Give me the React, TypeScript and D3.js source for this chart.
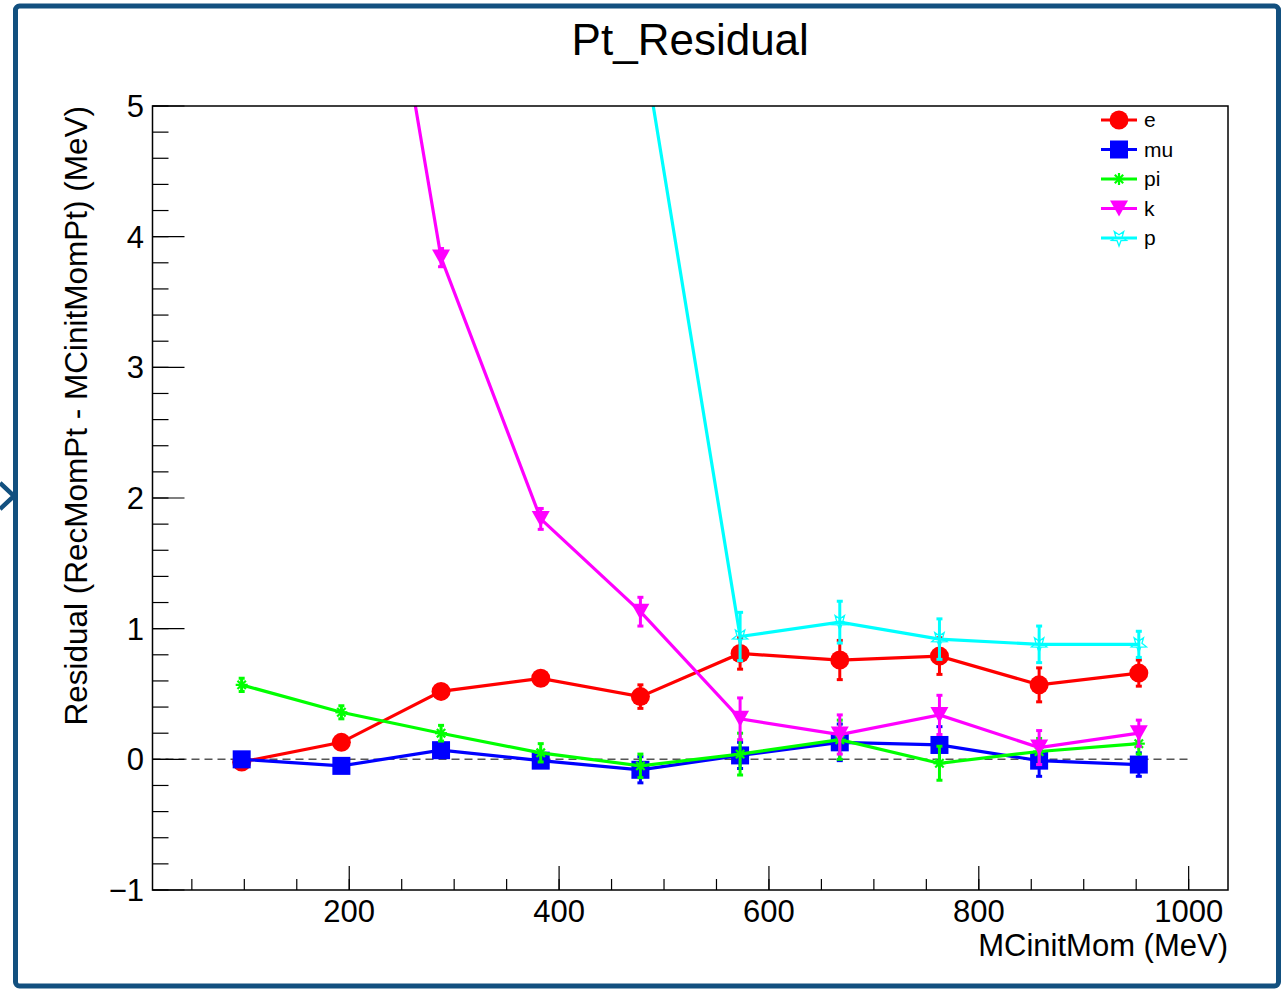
import React from "react";
import * as d3 from "d3";

const xCenters = [97.5, 192.5, 287.5, 382.5, 477.5, 572.5, 667.5, 762.5, 857.5, 952.5];
const eVals = [-0.02, 0.13, 0.52, 0.62, 0.48, 0.81, 0.76, 0.79, 0.57, 0.66];
const eErr = [0.03, 0.04, 0.05, 0.05, 0.09, 0.12, 0.15, 0.14, 0.13, 0.1];
const muVals = [0.0, -0.05, 0.07, -0.01, -0.08, 0.03, 0.13, 0.11, -0.01, -0.04];
const muErr = [0.03, 0.03, 0.04, 0.05, 0.1, 0.1, 0.14, 0.14, 0.12, 0.09];
const piVals = [0.57, 0.36, 0.2, 0.05, -0.05, 0.04, 0.15, -0.03, 0.06, 0.12];
const piErr = [0.05, 0.05, 0.06, 0.07, 0.09, 0.16, 0.15, 0.13, 0.1, 0.08];
const kVals = [14.0, 8.35, 3.84, 1.84, 1.13, 0.31, 0.19, 0.34, 0.09, 0.2];
const kErr = [0.3, 0.15, 0.07, 0.08, 0.11, 0.16, 0.15, 0.15, 0.13, 0.1];
const pVals = [40, 22, 12, 8, 5.6, 0.94, 1.05, 0.92, 0.88, 0.88];
const pErr = [1, 0.8, 0.5, 0.3, 0.25, 0.185, 0.16, 0.155, 0.14, 0.1];

const xMajorTicks = [200, 400, 600, 800, 1000];
const xMinorTicks = d3.range(50, 1001, 50);
const yMajorTicks = [-1, 0, 1, 2, 3, 4, 5];
const yMinorTicks = d3.range(-1, 5.001, 0.2);

const titleText = "Pt_Residual";
const xTitle = "MCinitMom (MeV)";
const yTitle = "Residual (RecMomPt - MCinitMomPt) (MeV)";

type Series = { name: string; color: string; marker: string; vals: number[]; errs: number[] };
const seriesList: Series[] = [
  { name: "e", color: "#ff0000", marker: "circle", vals: eVals, errs: eErr },
  { name: "mu", color: "#0000ff", marker: "square", vals: muVals, errs: muErr },
  { name: "pi", color: "#00ff00", marker: "aster", vals: piVals, errs: piErr },
  { name: "k", color: "#ff00ff", marker: "tri", vals: kVals, errs: kErr },
  { name: "p", color: "#00ffff", marker: "ostar", vals: pVals, errs: pErr },
];

const FONT = "'Liberation Sans', Arial, Helvetica, sans-serif";
const L = 152.5, R = 1228, T = 106, B = 890;

function Marker({ kind, cx, cy, color }: { kind: string; cx: number; cy: number; color: string }) {
  if (kind === "circle") return <circle cx={cx} cy={cy} r={9.5} fill={color} />;
  if (kind === "square") return <rect x={cx - 9} y={cy - 9} width={18} height={18} fill={color} />;
  if (kind === "tri") {
    const h = 16, w = 18;
    return <path d={`M${cx - w / 2},${cy - h / 2}L${cx + w / 2},${cy - h / 2}L${cx},${cy + h / 2}Z`} fill={color} />;
  }
  if (kind === "aster") {
    const s = 6;
    return (
      <g stroke={color} strokeWidth={2.2}>
        <line x1={cx - s} y1={cy} x2={cx + s} y2={cy} />
        <line x1={cx} y1={cy - s} x2={cx} y2={cy + s} />
        <line x1={cx - s * 0.7} y1={cy - s * 0.7} x2={cx + s * 0.7} y2={cy + s * 0.7} />
        <line x1={cx - s * 0.7} y1={cy + s * 0.7} x2={cx + s * 0.7} y2={cy - s * 0.7} />
      </g>
    );
  }
  const pts: string[] = [];
  for (let i = 0; i < 10; i++) {
    const r = i % 2 === 0 ? 8 : 3.3;
    const a = Math.PI / 2 + (i * Math.PI) / 5;
    pts.push(`${cx + r * Math.cos(a)},${cy + r * Math.sin(a)}`);
  }
  return <polygon points={pts.join(" ")} fill="none" stroke={color} strokeWidth={1.3} />;
}

export default function App() {
  const x = d3.scaleLinear().domain([12.5, 1037.5]).range([L, R]);
  const y = d3.scaleLinear().domain([-1, 5]).range([B, T]);
  const line = d3
    .line<number>()
    .x((_, i) => x(xCenters[i]))
    .y((v) => y(v));

  const legendY = [120, 149.5, 179, 208.5, 238];
  const border = "#12507f";

  return (
    <svg width={1281} height={990} style={{ position: "absolute", left: 0, top: 0, background: "#fff" }} fontFamily={FONT}>
      <defs>
        <clipPath id="frameClip">
          <rect x={L} y={T} width={R - L} height={B - T} />
        </clipPath>
      </defs>
      <rect x={0} y={0} width={1281} height={990} fill="#fff" />
      <rect x={15.5} y={6} width={1263} height={980} rx={4} fill="none" stroke={border} strokeWidth={5} />
      <polyline points="0,483 14,496 0,509" fill="none" stroke={border} strokeWidth={4.5} />

      <text x={(L + R) / 2} y={55} textAnchor="middle" fontSize={44} fill="#000">{titleText}</text>

      <line x1={x(12.5)} x2={x(1000)} y1={y(0)} y2={y(0)} stroke="#555" strokeWidth={1.5} strokeDasharray="8 5" />

      <g clipPath="url(#frameClip)">
        {seriesList.map((s) => (
          <g key={s.name}>
            <path d={line(s.vals) || ""} fill="none" stroke={s.color} strokeWidth={3.2} />
            {s.vals.map((v, i) => {
              const cx = x(xCenters[i]);
              const y1 = y(v + s.errs[i]);
              const y2 = y(v - s.errs[i]);
              return (
                <g key={i} stroke={s.color} strokeWidth={3}>
                  <line x1={cx} x2={cx} y1={y1} y2={y2} />
                  <line x1={cx - 3} x2={cx + 3} y1={y1} y2={y1} />
                  <line x1={cx - 3} x2={cx + 3} y1={y2} y2={y2} />
                </g>
              );
            })}
            {s.vals.map((v, i) => (
              <Marker key={"m" + i} kind={s.marker} cx={x(xCenters[i])} cy={y(v)} color={s.color} />
            ))}
          </g>
        ))}
      </g>

      <rect x={L} y={T} width={R - L} height={B - T} fill="none" stroke="#000" strokeWidth={1.5} />

      {xMinorTicks.map((t) => (
        <line key={"xm" + t} x1={x(t)} x2={x(t)} y1={B} y2={B - 11} stroke="#000" strokeWidth={1.2} />
      ))}
      {xMajorTicks.map((t) => (
        <g key={"xM" + t}>
          <line x1={x(t)} x2={x(t)} y1={B} y2={B - 24} stroke="#000" strokeWidth={1.2} />
          <text x={x(t)} y={922} textAnchor="middle" fontSize={31} fill="#000">{t}</text>
        </g>
      ))}
      {yMinorTicks.map((t, i) => (
        <line key={"ym" + i} x1={L} x2={L + 16} y1={y(t)} y2={y(t)} stroke="#000" strokeWidth={1.2} />
      ))}
      {yMajorTicks.map((t) => (
        <g key={"yM" + t}>
          <line x1={L} x2={L + 32} y1={y(t)} y2={y(t)} stroke="#000" strokeWidth={1.2} />
          <text x={144} y={y(t) + 11} textAnchor="end" fontSize={31} fill="#000">{t < 0 ? "\u2212" + Math.abs(t) : t}</text>
        </g>
      ))}

      <text x={R} y={956} textAnchor="end" fontSize={31} fill="#000">{xTitle}</text>
      <text transform={`translate(87,${T}) rotate(-90)`} textAnchor="end" fontSize={31.5} fill="#000">{yTitle}</text>

      {seriesList.map((s, i) => (
        <g key={"lg" + s.name}>
          <line x1={1101} x2={1137} y1={legendY[i]} y2={legendY[i]} stroke={s.color} strokeWidth={3} />
          <Marker kind={s.marker} cx={1119} cy={legendY[i]} color={s.color} />
          <text x={1144} y={legendY[i] + 7} fontSize={21} fill="#000">{s.name}</text>
        </g>
      ))}
    </svg>
  );
}
